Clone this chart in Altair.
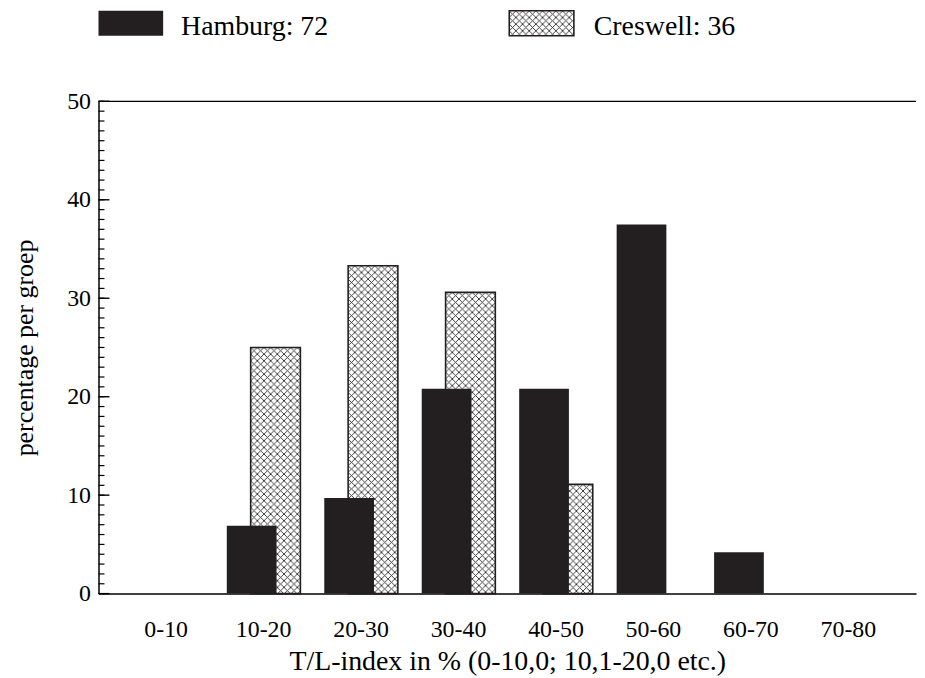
import altair as alt
import pandas as pd
from urllib.parse import quote

# ---- data ----
categories = ["0-10", "10-20", "20-30", "30-40", "40-50", "50-60", "60-70", "70-80"]
hamburg_cats = ["10-20", "20-30", "30-40", "40-50", "50-60", "60-70"]
hamburg_vals = [6.9, 9.7, 20.8, 20.8, 37.5, 4.2]
creswell_cats = ["10-20", "20-30", "30-40", "40-50"]
creswell_vals = [25.0, 33.3, 30.6, 11.1]
y_major = [0, 10, 20, 30, 40, 50]
y_minor = list(range(0, 51))
legend_labels = ["Hamburg: 72", "Creswell: 36"]

FONT = "Liberation Serif"
DARK = "#231f20"
W, H = 822, 495
BAR_W = 50

hatch_svg = (
    "<svg xmlns='http://www.w3.org/2000/svg' width='100%' height='100%'>"
    "<defs><pattern id='h' width='6.7' height='6.7' patternUnits='userSpaceOnUse'>"
    "<path d='M-1,-1L7.7,7.7M7.7,-1L-1,7.7' stroke='#2a2a2a' stroke-width='0.9'/></pattern></defs>"
    "<rect width='100%' height='100%' fill='white'/>"
    "<rect width='100%' height='100%' fill='url(#h)'/></svg>"
)
hatch_url = "data:image/svg+xml;charset=utf-8," + quote(hatch_svg)

ham = pd.DataFrame({"cat": hamburg_cats, "val": hamburg_vals})
cre = pd.DataFrame({"cat": creswell_cats, "val": creswell_vals})

xscale = alt.Scale(domain=categories, paddingInner=0, paddingOuter=0.194)
yscale = alt.Scale(domain=[0, 50], nice=False, zero=True)

x_enc = alt.X(
    "cat:N",
    scale=xscale,
    sort=categories,
    axis=alt.Axis(
        title="T/L-index in % (0-10,0; 10,1-20,0 etc.)",
        labelAngle=0,
        ticks=False,
        domainColor="black",
        domainWidth=1.5,
        labelFont=FONT,
        labelFontSize=24,
        labelColor="black",
        labelPadding=24,
        titleFont=FONT,
        titleFontSize=28,
        titleFontWeight="normal",
        titleColor="black",
        titlePadding=6,
    ),
)
y_enc = alt.Y(
    "val:Q",
    scale=yscale,
    axis=alt.Axis(
        title="percentage per groep",
        values=y_major,
        ticks=False,
        grid=False,
        domainColor="black",
        domainWidth=1.5,
        labelFont=FONT,
        labelFontSize=24,
        labelColor="black",
        labelPadding=8,
        titleFont=FONT,
        titleFontSize=26,
        titleFontWeight="normal",
        titleColor="black",
        titlePadding=29,
    ),
)

cre_fill = alt.Chart(cre).mark_image(width=BAR_W, xOffset=12, aspect=False).encode(
    x=x_enc, y=y_enc, y2=alt.datum(0), url=alt.value(hatch_url)
)
cre_outline = alt.Chart(cre).mark_bar(
    width=BAR_W, xOffset=12, fillOpacity=0, stroke=DARK, strokeWidth=1.6
).encode(x=x_enc, y=y_enc)
ham_bars = alt.Chart(ham).mark_bar(width=BAR_W, xOffset=-12, color=DARK).encode(
    x=x_enc, y=y_enc
)

minor_df = pd.DataFrame({"v": y_minor})
major_df = pd.DataFrame({"v": y_major})
minor_ticks = alt.Chart(minor_df).mark_rule(color="black", strokeWidth=1.2).encode(
    y=alt.Y("v:Q", scale=yscale), y2="v:Q", x=alt.value(0), x2=alt.value(6)
)
major_ticks = alt.Chart(major_df).mark_rule(color="black", strokeWidth=1.4).encode(
    y=alt.Y("v:Q", scale=yscale), y2="v:Q", x=alt.value(0), x2=alt.value(11)
)
top_line = alt.Chart(pd.DataFrame({"v": [50]})).mark_rule(color="black", strokeWidth=1.3).encode(
    y=alt.Y("v:Q", scale=yscale), y2="v:Q", x=alt.value(0), x2=alt.value(W)
)

# ---- legend drawn at the top ----
leg_df = pd.DataFrame({"label": legend_labels})
leg_black = alt.Chart(leg_df.iloc[[0]]).mark_rect(color=DARK).encode(
    x=alt.value(0), x2=alt.value(65), y=alt.value(-91), y2=alt.value(-66)
)
leg_hatch = alt.Chart(leg_df.iloc[[1]]).mark_image(aspect=False).encode(
    x=alt.value(413), x2=alt.value(478), y=alt.value(-91), y2=alt.value(-66),
    url=alt.value(hatch_url),
)
leg_hatch_outline = alt.Chart(leg_df.iloc[[1]]).mark_rect(
    fillOpacity=0, stroke=DARK, strokeWidth=1.6
).encode(x=alt.value(413), x2=alt.value(478), y=alt.value(-91), y2=alt.value(-66))
leg_text1 = alt.Chart(leg_df.iloc[[0]]).mark_text(
    align="left", baseline="alphabetic", font=FONT, fontSize=28, color="black"
).encode(x=alt.value(83), y=alt.value(-67), text="label:N")
leg_text2 = alt.Chart(leg_df.iloc[[1]]).mark_text(
    align="left", baseline="alphabetic", font=FONT, fontSize=28, color="black"
).encode(x=alt.value(498), y=alt.value(-67), text="label:N")

chart = (
    alt.layer(
        cre_fill, cre_outline, ham_bars, minor_ticks, major_ticks, top_line,
        leg_black, leg_hatch, leg_hatch_outline, leg_text1, leg_text2,
    )
    .properties(
        width=W, height=H, background="white",
        padding={"left": 4, "top": 0, "right": 0, "bottom": 0},
    )
    .configure_view(strokeWidth=0, stroke="transparent")
)

chart.save("out.html", embed_options={"renderer": "svg", "actions": False})
